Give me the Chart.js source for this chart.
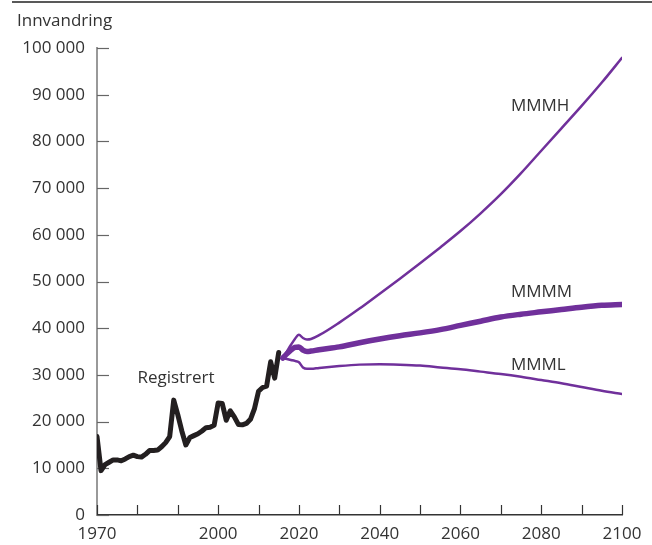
<!DOCTYPE html>
<html>
<head>
<meta charset="utf-8">
<script src="https://cdn.jsdelivr.net/npm/chart.js@4"></script>
<style>
  html, body { margin: 0; padding: 0; background: #fff; }
</style>
</head>
<body>
<canvas id="chart" width="652" height="545"></canvas>
<script>
// registrert innvandring
const regYears = [1970, 1971, 1972, 1973, 1974, 1975, 1976, 1977, 1978, 1979,
  1980, 1981, 1982, 1983, 1984, 1985, 1986, 1987, 1988, 1989,
  1990, 1991, 1992, 1993, 1994, 1995, 1996, 1997, 1998, 1999,
  2000, 2001, 2002, 2003, 2004, 2005, 2006, 2007, 2008, 2009,
  2010, 2011, 2012, 2013, 2014, 2015];
const regValues = [16800, 9500, 10800, 11300, 11800, 11800, 11600, 12000, 12500, 12800,
  12500, 12400, 13000, 13800, 13800, 13900, 14600, 15500, 16800, 24600,
  21500, 18000, 15000, 16600, 17000, 17400, 18000, 18700, 18800, 19200,
  24000, 23900, 20300, 22300, 21000, 19400, 19300, 19600, 20500, 22800,
  26500, 27300, 27600, 32800, 29300, 34800];

// framskrivinger
const projYears = [2016, 2017, 2018, 2019, 2020, 2021, 2022, 2023, 2025, 2030,
  2035, 2040, 2045, 2050, 2055, 2060, 2065, 2070, 2075, 2080,
  2085, 2090, 2095, 2100];
const mmmhValues = [33600, 35000, 36400, 37700, 38600, 37900, 37600, 37700, 38500, 41200,
  44200, 47400, 50600, 53900, 57300, 60800, 64600, 68700, 73200, 78000,
  82800, 87600, 92600, 97900];
const mmmmValues = [33600, 34500, 35300, 35900, 36000, 35300, 35000, 35100, 35400, 36000,
  36900, 37700, 38400, 39000, 39700, 40600, 41500, 42400, 43000, 43500,
  44000, 44500, 44900, 45100];
const mmmlValues = [33600, 33400, 33200, 33000, 32700, 31600, 31300, 31300, 31500, 31900,
  32200, 32300, 32200, 32000, 31600, 31200, 30700, 30200, 29600, 28900,
  28200, 27400, 26600, 25900];

const xLabels = [1970, 2000, 2020, 2040, 2060, 2080, 2100];

// tekst i figuren (dataverdier)
const notes = [
  { text: 'Registrert', x: 1980, y: 29300 },
  { text: 'MMMH', x: 2072.5, y: 87600 },
  { text: 'MMMM', x: 2072.5, y: 47800 },
  { text: 'MMML', x: 2072.5, y: 32100 }
];

const PURPLE = '#70309b';
const FONT = '"Open Sans", sans-serif';
const FSIZE = 17;

function pts(xs, ys) {
  return xs.map((x, i) => ({ x: x, y: ys[i] }));
}

function fmt(v) {
  return String(v).replace(/\B(?=(\d{3})+(?!\d))/g, ' ');
}

const decor = {
  id: 'decor',
  beforeDatasetsDraw(chart) {
    const ctx = chart.ctx;
    const xs = chart.scales.x, ys = chart.scales.y;
    const area = chart.chartArea;
    ctx.save();
    // linje øverst
    ctx.strokeStyle = '#222';
    ctx.lineWidth = 1.5;
    ctx.beginPath();
    ctx.moveTo(12, 2);
    ctx.lineTo(652, 2);
    ctx.stroke();
    // tittel
    ctx.fillStyle = '#333';
    ctx.font = FSIZE + 'px ' + FONT;
    ctx.textAlign = 'left';
    ctx.textBaseline = 'middle';
    ctx.fillText('Innvandring', 17, 21);
    // tickmerker innover
    ctx.strokeStyle = '#666';
    ctx.lineWidth = 1.2;
    ys.ticks.forEach(t => {
      const y = Math.round(ys.getPixelForValue(t.value)) + 0.5;
      ctx.beginPath();
      ctx.moveTo(area.left, y);
      ctx.lineTo(area.left + 12, y);
      ctx.stroke();
    });
    ctx.strokeStyle = '#333';
    xs.ticks.forEach(t => {
      const x = Math.round(xs.getPixelForValue(t.value)) + 0.5;
      ctx.beginPath();
      ctx.moveTo(x, area.bottom);
      ctx.lineTo(x, area.bottom - 10);
      ctx.stroke();
    });
    ctx.restore();
  },
  afterDatasetsDraw(chart) {
    const ctx = chart.ctx;
    const xs = chart.scales.x, ys = chart.scales.y;
    ctx.save();
    ctx.fillStyle = '#333';
    ctx.font = FSIZE + 'px ' + FONT;
    ctx.textAlign = 'left';
    ctx.textBaseline = 'middle';
    notes.forEach(n => {
      ctx.fillText(n.text, xs.getPixelForValue(n.x), ys.getPixelForValue(n.y));
    });
    ctx.restore();
  }
};

const ctx = document.getElementById('chart').getContext('2d');
new Chart(ctx, {
  type: 'line',
  data: {
    datasets: [
      {
        label: 'MMMH',
        data: pts(projYears, mmmhValues),
        borderColor: PURPLE,
        borderWidth: 2.5,
        cubicInterpolationMode: 'monotone'
      },
      {
        label: 'MMMM',
        data: pts(projYears, mmmmValues),
        borderColor: PURPLE,
        borderWidth: 5.5,
        cubicInterpolationMode: 'monotone'
      },
      {
        label: 'MMML',
        data: pts(projYears, mmmlValues),
        borderColor: PURPLE,
        borderWidth: 2.5,
        cubicInterpolationMode: 'monotone'
      },
      {
        label: 'Registrert',
        data: pts(regYears, regValues),
        borderColor: '#231f20',
        borderWidth: 5,
        tension: 0
      }
    ]
  },
  options: {
    responsive: false,
    animation: false,
    devicePixelRatio: 1,
    layout: { padding: { top: 48, right: 30, bottom: 0, left: 0 } },
    elements: {
      point: { radius: 0 },
      line: { borderCapStyle: 'round', borderJoinStyle: 'round', fill: false }
    },
    plugins: {
      legend: { display: false },
      tooltip: { enabled: false }
    },
    scales: {
      x: {
        type: 'linear',
        min: 1970,
        max: 2100,
        afterFit: s => { s.height = 30; },
        afterBuildTicks: s => {
          const t = [];
          for (let v = 1970; v <= 2100; v += 10) t.push({ value: v });
          s.ticks = t;
        },
        ticks: {
          autoSkip: false,
          maxRotation: 0,
          padding: 9,
          color: '#333',
          font: { family: FONT, size: FSIZE },
          callback: v => xLabels.includes(v) ? String(v) : ''
        },
        grid: { drawOnChartArea: false, drawTicks: false },
        border: { color: '#333', width: 1.5 }
      },
      y: {
        min: 0,
        max: 100000,
        afterFit: s => { s.width = 97; },
        ticks: {
          stepSize: 10000,
          padding: 12,
          color: '#333',
          font: { family: FONT, size: FSIZE },
          callback: v => fmt(v)
        },
        grid: { drawOnChartArea: false, drawTicks: false },
        border: { color: '#999', width: 2 }
      }
    }
  },
  plugins: [decor]
});
</script>
</body>
</html>
